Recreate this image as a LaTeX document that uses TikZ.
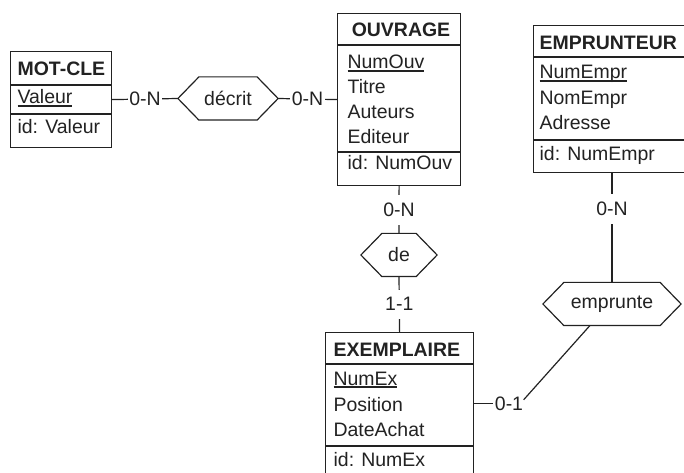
\documentclass[tikz,border=0pt]{standalone}
\usepackage{fontspec}
\setmainfont{Liberation Sans}
\usetikzlibrary{calc}
\definecolor{ink}{HTML}{222222}
\newcommand\uln[1]{\setbox0\hbox{#1}\rlap{\rule[-2.1pt]{\wd0}{1.1pt}}\box0}
\newcommand\hexa[1]{\draw (#1.north west) -- (#1.north east) -- ([xshift=15.75pt]#1.east) -- (#1.south east) -- (#1.south west) -- ([xshift=-15.75pt]#1.west) -- cycle;}
\begin{document}
\begin{tikzpicture}[x=0.75pt,y=-0.75pt,
  font=\fontsize{14.6}{17}\selectfont, line width=0.9pt, draw=ink, text=ink,
  entity/.style={draw, rectangle, inner sep=0pt, anchor=north west},
  txt/.style={anchor=base west, inner sep=0pt},
  ttl/.style={txt, font=\fontsize{14.6}{17}\selectfont\bfseries},
  rel/.style={inner sep=0pt, minimum height=31.5pt},
  lbl/.style={fill=white, inner xsep=1.2pt, inner ysep=6pt}]
\useasboundingbox (0,0) rectangle (684,473);
\clip (0,0) rectangle (684,473);

% MOT-CLE
\node[entity, minimum width=75.75pt, minimum height=72pt] (motcle) at (10,51) {};
\draw (10,85) -- (111,85);
\draw (10,114) -- (111,114);
\node[ttl] at (17,76) {MOT-CLE};
\node[txt] at (17,104) {\uln{Valeur}};
\node[txt] at (17,134) {id: Valeur};

% OUVRAGE
\node[entity, minimum width=92.25pt, minimum height=129pt] (ouvrage) at (337,13) {};
\draw (337,45) -- (460,45);
\draw (337,152) -- (460,152);
\node[ttl, anchor=base] at (401,37) {OUVRAGE};
\node[txt] at (347,69) {\uln{NumOuv}};
\node[txt] at (347,94) {Titre};
\node[txt] at (347,119) {Auteurs};
\node[txt] at (347,144) {Editeur};
\node[txt] at (347,170) {id: NumOuv};

% EMPRUNTEUR
\node[entity, minimum width=125.25pt, minimum height=110.25pt] (emprunteur) at (533,25) {};
\draw (533,57) -- (700,57);
\draw (533,140) -- (700,140);
\node[ttl] at (539,50) {EMPRUNTEUR};
\node[txt] at (539,79) {\uln{NumEmpr}};
\node[txt] at (539,105) {NomEmpr};
\node[txt] at (539,130) {Adresse};
\node[txt] at (539,161) {id: NumEmpr};

% EXEMPLAIRE
\node[entity, minimum width=111pt, minimum height=118.5pt] (exemplaire) at (325,332) {};
\draw (325,364) -- (473,364);
\draw (325,446) -- (473,446);
\node[ttl] at (333,356) {EXEMPLAIRE};
\node[txt] at (333,385) {\uln{NumEx}};
\node[txt] at (333,411) {Position};
\node[txt] at (333,436) {DateAchat};
\node[txt] at (333,466) {id: NumEx};

% relationships
\node[rel, minimum width=42.75pt] (decrit) at (228,98.5) {décrit};
\node[rel, minimum width=24.75pt] (de) at (399,255) {de};
\node[rel, minimum width=71.25pt] (emprunte) at (612,304) {emprunte};
\hexa{decrit}
\hexa{de}
\hexa{emprunte}

% connectors
\draw (motcle.east) -- node[lbl]{0-N} ([xshift=-15.75pt]decrit.west);
\draw ([xshift=15.75pt]decrit.east) -- node[lbl]{0-N} (ouvrage.west);
\draw (ouvrage.south) -- node[lbl]{0-N} (de.north);
\draw (de.south) -- node[lbl]{1-1} (exemplaire.north);
\draw (emprunte.north |- emprunteur.south) -- node[lbl, pos=0.33]{0-N} (emprunte.north);
\node[inner sep=0pt] (c01) at (509,403.5) {0-1};
\draw (c01.west -| exemplaire.east) -- ([xshift=-1pt]c01.west);
\draw ($(c01.east)!0.5!(c01.north east)$) -- ($(emprunte.south west)!0.27!(emprunte.south east)$);
\end{tikzpicture}
\end{document}
